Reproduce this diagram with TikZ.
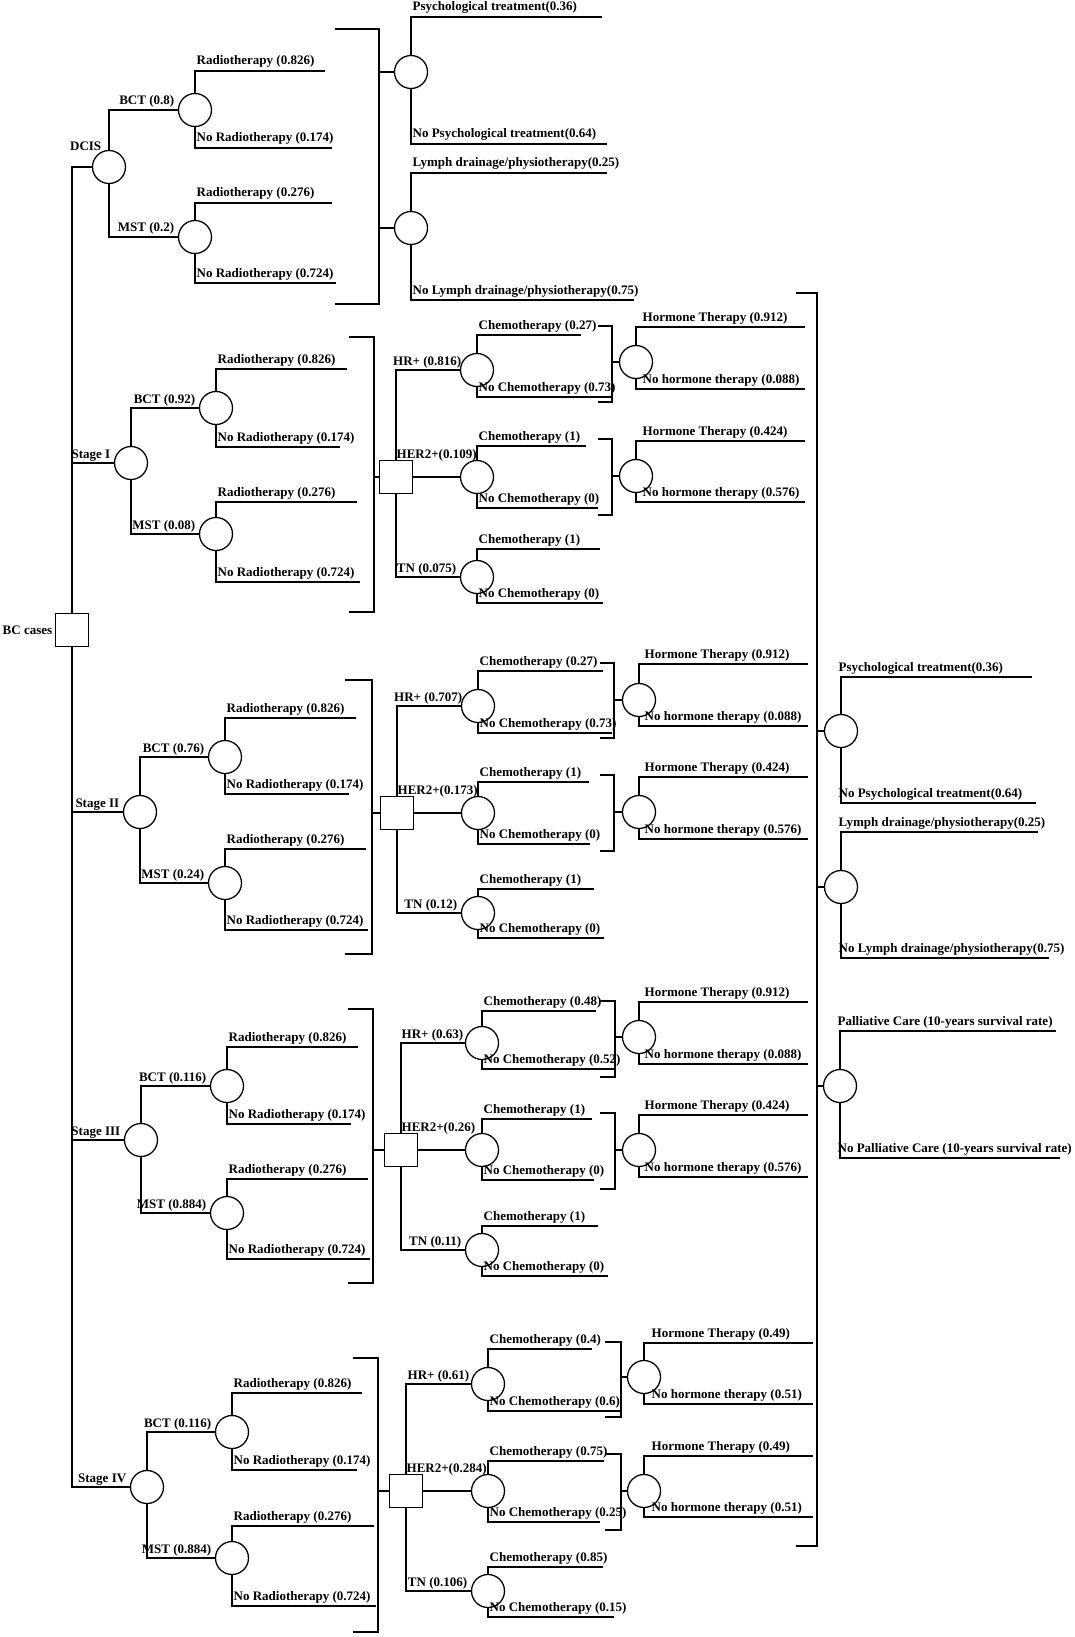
\documentclass[tikz,border=0pt]{standalone}
\usepackage{fontspec}
\setmainfont{Liberation Serif}
\usepackage{tikz}
\usetikzlibrary{calc}

\newcommand{\labfont}{\fontsize{13}{15}\selectfont\bfseries}

% chance node with two closing branches
\newcommand{\twoway}[9]{%
  \node[chance] (#1) at (#2,#3) {};
  \coordinate (#1-t) at (#2,#4);
  \coordinate (#1-te) at (#5,#4);
  \coordinate (#1-b) at (#2,#7);
  \coordinate (#1-be) at (#8,#7);
  \draw (#1.north) -- (#1-t) -- (#1-te);
  \draw (#1.south) -- (#1-b) -- (#1-be);
  \node[lab] (#1-tl) at (#1-t) {#6};
  \node[lab] (#1-bl) at (#1-b) {#9};
}
% closing bar of a group of branches
\newcommand{\groupbar}[5]{%
  \coordinate (#1-1) at (#2,#4);
  \coordinate (#1-2) at (#3,#4);
  \coordinate (#1-3) at (#3,#5);
  \coordinate (#1-4) at (#2,#5);
  \draw (#1-1) -- (#1-2) -- (#1-3) -- (#1-4);
}

\begin{document}
\begin{tikzpicture}[x=1pt,y=-1pt,line width=1.3pt,
  chance/.style={circle,draw,minimum size=33pt,inner sep=0pt},
  decision/.style={rectangle,draw,minimum size=33pt,inner sep=0pt},
  lab/.style={font=\labfont,inner sep=0pt,anchor=base west,xshift=1pt,yshift=6pt},
  inlab/.style={font=\labfont,inner sep=0pt,anchor=base east,xshift=-3pt,yshift=5pt}]
\path[use as bounding box,fill=white] (0,0) rectangle (1074,1637);

% root
\node[decision] (bc) at (72,630) {};
\node[font=\labfont,inner sep=0pt,anchor=east,xshift=-2pt] (bc-l) at (bc.west) {BC cases};

% DCIS
\node[chance] (dcis) at (109,167) {};
\node[inlab,xshift=13pt,yshift=11pt] (dcis-l) at (dcis.west) {DCIS};
\draw (bc.north) |- (dcis.west);
\twoway{db}{195}{110}{71}{325}{Radiotherapy (0.826)}{148}{332}{No Radiotherapy (0.174)}
\twoway{dm}{195}{237}{203}{332}{Radiotherapy (0.276)}{283}{336}{No Radiotherapy (0.724)}
\draw (dcis.north) |- (db.west);
\draw (dcis.south) |- (dm.west);
\node[inlab] (db-l) at (db.west) {BCT (0.8)};
\node[inlab] (dm-l) at (dm.west) {MST (0.2)};
\groupbar{dk}{335}{379}{29}{304}
\twoway{dp}{411}{72}{17}{602}{Psychological treatment(0.36)}{144}{607}{No Psychological treatment(0.64)}
\twoway{dl}{411}{228}{173}{607}{Lymph drainage/physiotherapy(0.25)}{300}{634}{No Lymph drainage/physiotherapy(0.75)}
\draw (dk-2 |- dp.west) -- (dp.west);
\draw (dk-2 |- dl.west) -- (dl.west);

% Stage I
\node[chance] (s1) at (131,463) {};
\node[inlab] (s1-l) at (s1.west) {Stage I};
\draw (bc.north) |- (s1.west);
\twoway{ab}{216}{408}{369}{347}{Radiotherapy (0.826)}{447}{340}{No Radiotherapy (0.174)}
\twoway{am}{216}{534}{502}{357}{Radiotherapy (0.276)}{582}{360}{No Radiotherapy (0.724)}
\draw (s1.north) |- (ab.west);
\draw (s1.south) |- (am.west);
\node[inlab] (ab-l) at (ab.west) {BCT (0.92)};
\node[inlab] (am-l) at (am.west) {MST (0.08)};
\groupbar{ak}{349}{374}{337}{612}
\node[decision] (sq1) at (396,477) {};
\draw (ak-2 |- sq1.west) -- (sq1.west);
\twoway{ahr}{477}{370}{335}{581}{Chemotherapy (0.27)}{397}{612}{No Chemotherapy (0.73)}
\twoway{ahe}{477}{477}{446}{586}{Chemotherapy (1)}{508}{598}{No Chemotherapy (0)}
\twoway{atn}{477}{577}{549}{600}{Chemotherapy (1)}{603}{603}{No Chemotherapy (0)}
\draw (sq1.north) |- (ahr.west);
\draw (sq1.east) -- (ahe.west);
\draw (sq1.south) |- (atn.west);
\node[inlab,xshift=5pt] (ahr-l) at (ahr.west) {HR+ (0.816)};
\node[lab,xshift=-1pt,yshift=-5pt] (ahe-l) at (sq1.north) {HER2+(0.109)};
\node[inlab] (atn-l) at (atn.west) {TN (0.075)};
\groupbar{ahk}{598}{612}{326}{402}
\groupbar{aek}{598}{612}{439}{515}
\begin{scope}[lab/.append style={xshift=5pt}]
\twoway{ah1}{636}{362}{327}{805}{Hormone Therapy (0.912)}{389}{805}{No hormone therapy (0.088)}
\twoway{ah2}{636}{476}{441}{805}{Hormone Therapy (0.424)}{502}{805}{No hormone therapy (0.576)}
\end{scope}
\draw (ahk-2 |- ah1.west) -- (ah1.west);
\draw (aek-2 |- ah2.west) -- (ah2.west);

% Stage II
\node[chance] (s2) at (140,812) {};
\node[inlab] (s2-l) at (s2.west) {Stage II};
\draw (bc.south) |- (s2.west);
\twoway{bb}{225}{757}{718}{356}{Radiotherapy (0.826)}{794}{349}{No Radiotherapy (0.174)}
\twoway{bm}{225}{883}{849}{366}{Radiotherapy (0.276)}{930}{368}{No Radiotherapy (0.724)}
\draw (s2.north) |- (bb.west);
\draw (s2.south) |- (bm.west);
\node[inlab] (bb-l) at (bb.west) {BCT (0.76)};
\node[inlab] (bm-l) at (bm.west) {MST (0.24)};
\groupbar{bk}{345}{372}{680}{954}
\node[decision] (sq2) at (397,813) {};
\draw (bk-2 |- sq2.west) -- (sq2.west);
\twoway{bhr}{478}{706}{671}{603}{Chemotherapy (0.27)}{733}{612}{No Chemotherapy (0.73)}
\twoway{bhe}{478}{813}{782}{589}{Chemotherapy (1)}{844}{590}{No Chemotherapy (0)}
\twoway{btn}{478}{913}{889}{594}{Chemotherapy (1)}{938}{604}{No Chemotherapy (0)}
\draw (sq2.north) |- (bhr.west);
\draw (sq2.east) -- (bhe.west);
\draw (sq2.south) |- (btn.west);
\node[inlab,xshift=5pt] (bhr-l) at (bhr.west) {HR+ (0.707)};
\node[lab,xshift=-1pt,yshift=-5pt] (bhe-l) at (sq2.north) {HER2+(0.173)};
\node[inlab] (btn-l) at (btn.west) {TN (0.12)};
\groupbar{bhk}{600}{614}{663}{738}
\groupbar{bek}{600}{614}{775}{851}
\begin{scope}[lab/.append style={xshift=4pt}]
\twoway{bh1}{639}{700}{664}{808}{Hormone Therapy (0.912)}{726}{808}{No hormone therapy (0.088)}
\twoway{bh2}{639}{812}{777}{808}{Hormone Therapy (0.424)}{839}{808}{No hormone therapy (0.576)}
\end{scope}
\draw (bhk-2 |- bh1.west) -- (bh1.west);
\draw (bek-2 |- bh2.west) -- (bh2.west);

% Stage III
\node[chance] (s3) at (141,1140) {};
\node[inlab] (s3-l) at (s3.west) {Stage III};
\draw (bc.south) |- (s3.west);
\twoway{cb}{227}{1086}{1047}{358}{Radiotherapy (0.826)}{1124}{351}{No Radiotherapy (0.174)}
\twoway{cm}{227}{1213}{1179}{368}{Radiotherapy (0.276)}{1259}{370}{No Radiotherapy (0.724)}
\draw (s3.north) |- (cb.west);
\draw (s3.south) |- (cm.west);
\node[inlab] (cb-l) at (cb.west) {BCT (0.116)};
\node[inlab] (cm-l) at (cm.west) {MST (0.884)};
\groupbar{ck}{348}{373}{1009}{1283}
\node[decision] (sq3) at (401,1150) {};
\draw (ck-2 |- sq3.west) -- (sq3.west);
\twoway{chr}{482}{1043}{1011}{596}{Chemotherapy (0.48)}{1069}{614}{No Chemotherapy (0.52)}
\twoway{che}{482}{1150}{1119}{592}{Chemotherapy (1)}{1180}{594}{No Chemotherapy (0)}
\twoway{ctn}{482}{1250}{1226}{598}{Chemotherapy (1)}{1276}{608}{No Chemotherapy (0)}
\draw (sq3.north) |- (chr.west);
\draw (sq3.east) -- (che.west);
\draw (sq3.south) |- (ctn.west);
\node[inlab,xshift=2pt] (chr-l) at (chr.west) {HR+ (0.63)};
\node[lab,xshift=-1pt,yshift=-5pt] (che-l) at (sq3.north) {HER2+(0.26)};
\node[inlab] (ctn-l) at (ctn.west) {TN (0.11)};
\groupbar{chk}{600}{615}{1001}{1077}
\groupbar{cek}{600}{615}{1113}{1189}
\begin{scope}[lab/.append style={xshift=4pt}]
\twoway{ch1}{639}{1037}{1002}{808}{Hormone Therapy (0.912)}{1064}{808}{No hormone therapy (0.088)}
\twoway{ch2}{639}{1150}{1115}{808}{Hormone Therapy (0.424)}{1177}{808}{No hormone therapy (0.576)}
\end{scope}
\draw (chk-2 |- ch1.west) -- (ch1.west);
\draw (cek-2 |- ch2.west) -- (ch2.west);

% Stage IV
\node[chance] (s4) at (147,1487) {};
\node[inlab] (s4-l) at (s4.west) {Stage IV};
\draw (bc.south) |- (s4.west);
\twoway{eb}{232}{1432}{1393}{362}{Radiotherapy (0.826)}{1470}{357}{No Radiotherapy (0.174)}
\twoway{em}{232}{1558}{1526}{374}{Radiotherapy (0.276)}{1606}{376}{No Radiotherapy (0.724)}
\draw (s4.north) |- (eb.west);
\draw (s4.south) |- (em.west);
\node[inlab] (eb-l) at (eb.west) {BCT (0.116)};
\node[inlab] (em-l) at (em.west) {MST (0.884)};
\groupbar{ek}{353}{378}{1358}{1632}
\node[decision] (sq4) at (406,1491) {};
\draw (ek-2 |- sq4.west) -- (sq4.west);
\twoway{ehr}{488}{1384}{1349}{592}{Chemotherapy (0.4)}{1411}{621}{No Chemotherapy (0.6)}
\twoway{ehe}{488}{1491}{1461}{604}{Chemotherapy (0.75)}{1522}{600}{No Chemotherapy (0.25)}
\twoway{etn}{488}{1591}{1567}{603}{Chemotherapy (0.85)}{1617}{614}{No Chemotherapy (0.15)}
\draw (sq4.north) |- (ehr.west);
\draw (sq4.east) -- (ehe.west);
\draw (sq4.south) |- (etn.west);
\node[inlab,xshift=2pt] (ehr-l) at (ehr.west) {HR+ (0.61)};
\node[lab,xshift=-1pt,yshift=-5pt] (ehe-l) at (sq4.north) {HER2+(0.284)};
\node[inlab] (etn-l) at (etn.west) {TN (0.106)};
\groupbar{ehk}{605}{621}{1342}{1417}
\groupbar{eek}{605}{621}{1454}{1530}
\begin{scope}[lab/.append style={xshift=6pt}]
\twoway{eh1}{644}{1377}{1343}{813}{Hormone Therapy (0.49)}{1404}{813}{No hormone therapy (0.51)}
\twoway{eh2}{644}{1491}{1456}{813}{Hormone Therapy (0.49)}{1517}{813}{No hormone therapy (0.51)}
\end{scope}
\draw (ehk-2 |- eh1.west) -- (eh1.west);
\draw (eek-2 |- eh2.west) -- (eh2.west);

% common follow-up
\groupbar{rk}{796}{817}{293}{1546}
\begin{scope}[lab/.append style={xshift=-4pt}]
\twoway{rp}{841}{731}{677}{1032}{Psychological treatment(0.36)}{803}{1036}{No Psychological treatment(0.64)}
\twoway{rl}{841}{887}{832}{1038}{Lymph drainage/physiotherapy(0.25)}{958}{1049}{No Lymph drainage/physiotherapy(0.75)}
\twoway{rc}{840}{1086}{1031}{1056}{Palliative Care (10-years survival rate)}{1158}{1060}{No Palliative Care (10-years survival rate)}
\end{scope}
\draw (rk-2 |- rp.west) -- (rp.west);
\draw (rk-2 |- rl.west) -- (rl.west);
\draw (rk-2 |- rc.west) -- (rc.west);
\end{tikzpicture}
\end{document}
